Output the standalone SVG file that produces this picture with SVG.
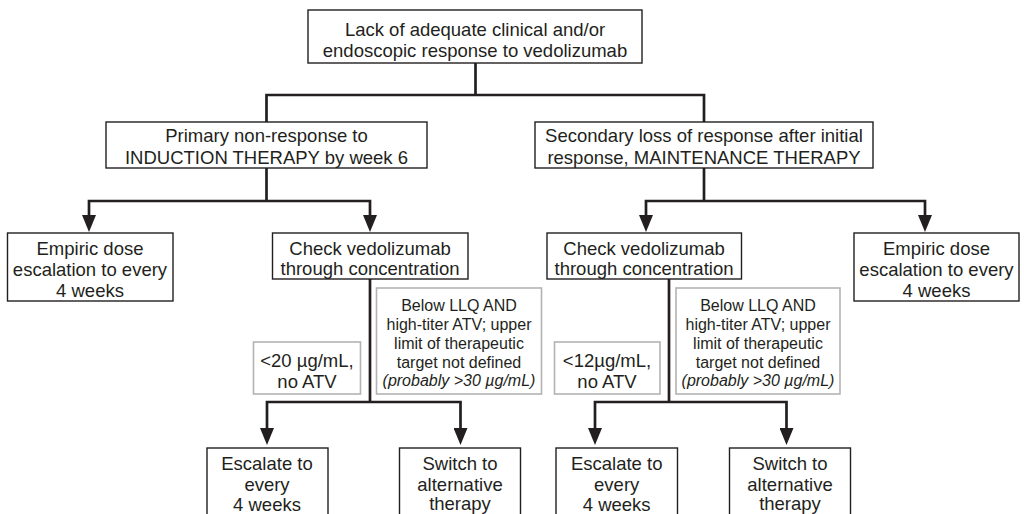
<svg xmlns="http://www.w3.org/2000/svg" width="1024" height="514" viewBox="0 0 1024 514">
<defs>
<style>
.box{fill:#fff;stroke:#231f20;stroke-width:1.4}
.gbox{fill:#fff;stroke:#b3b3b3;stroke-width:1.6}
.t{font-family:"Liberation Sans",Arial,sans-serif;font-size:18.5px;fill:#231f20;text-anchor:middle}
.s{font-family:"Liberation Sans",Arial,sans-serif;font-size:16px;fill:#231f20;text-anchor:middle}
.i{font-style:italic}
.c{fill:none;stroke:#231f20;stroke-width:2.7;stroke-linejoin:miter}
</style>
<marker id="ah" markerUnits="userSpaceOnUse" viewBox="0 -7 17 14" refX="7" refY="0" markerWidth="17" markerHeight="14" orient="auto-start-reverse">
<path d="M0,-7 L17,0 L0,7 z" fill="#231f20"/>
</marker>
</defs>
<rect width="1024" height="514" fill="#fff"/>
<g id="connectors">
<path class="c" d="M475.5,63 V95"/>
<path class="c" d="M266.5,122 V95 H704 V122"/>
<path class="c" d="M266.5,168 V201"/>
<path class="c" d="M89,222 V201 H370 V222" marker-start="url(#ah)" marker-end="url(#ah)"/>
<path class="c" d="M704,168 V201"/>
<path class="c" d="M646,222 V201 H925 V222" marker-start="url(#ah)" marker-end="url(#ah)"/>
<path class="c" d="M370,279 V402"/>
<path class="c" d="M267,435 V402 H460.5 V435" marker-start="url(#ah)" marker-end="url(#ah)"/>
<path class="c" d="M669,279 V402"/>
<path class="c" d="M595,435 V402 H786.5 V435" marker-start="url(#ah)" marker-end="url(#ah)"/>
</g>
<g id="n-top">
<rect class="box" x="308" y="10" width="334" height="53"/>
<text class="t" x="475" y="35.5">Lack of adequate clinical and/or</text>
<text class="t" x="475" y="56.5">endoscopic response to vedolizumab</text>
</g>
<g id="n-primary">
<rect class="box" x="106" y="122" width="321" height="46"/>
<text class="t" x="266.5" y="142">Primary non-response to</text>
<text class="t" x="266.5" y="164">INDUCTION THERAPY by week 6</text>
</g>
<g id="n-secondary">
<rect class="box" x="535" y="122" width="338" height="46"/>
<text class="t" x="704" y="142">Secondary loss of response after initial</text>
<text class="t" x="704" y="164">response, MAINTENANCE THERAPY</text>
</g>
<g id="n-empiric-left">
<rect class="box" x="7.5" y="233" width="165.5" height="68"/>
<text class="t" x="90" y="255">Empiric dose</text>
<text class="t" x="90" y="276">escalation to every</text>
<text class="t" x="90" y="297">4 weeks</text>
</g>
<g id="n-check-left">
<rect class="box" x="272.5" y="233" width="195.5" height="46"/>
<text class="t" x="370" y="255">Check vedolizumab</text>
<text class="t" x="370" y="275">through concentration</text>
</g>
<g id="n-check-right">
<rect class="box" x="547" y="233" width="194.5" height="46"/>
<text class="t" x="644" y="255">Check vedolizumab</text>
<text class="t" x="644" y="275">through concentration</text>
</g>
<g id="n-empiric-right">
<rect class="box" x="854" y="233" width="165" height="68"/>
<text class="t" x="936.5" y="255">Empiric dose</text>
<text class="t" x="936.5" y="276">escalation to every</text>
<text class="t" x="936.5" y="297">4 weeks</text>
</g>
<g id="n-cond-20">
<rect class="gbox" x="253.5" y="342" width="107" height="52"/>
<text class="t" x="307" y="367">&lt;20 µg/mL,</text>
<text class="t" x="307" y="388">no ATV</text>
</g>
<g id="n-cond-llq-left">
<rect class="gbox" x="376.5" y="288" width="165" height="106"/>
<text class="s" x="459" y="311">Below LLQ AND</text>
<text class="s" x="459" y="330">high-titer ATV; upper</text>
<text class="s" x="459" y="349">limit of therapeutic</text>
<text class="s" x="459" y="368">target not defined</text>
<text class="s i" x="459" y="386">(probably &gt;30 µg/mL)</text>
</g>
<g id="n-cond-12">
<rect class="gbox" x="554.5" y="342" width="105.5" height="52"/>
<text class="t" x="607" y="367">&lt;12µg/mL,</text>
<text class="t" x="607" y="388">no ATV</text>
</g>
<g id="n-cond-llq-right">
<rect class="gbox" x="676" y="288" width="164" height="106"/>
<text class="s" x="758" y="311">Below LLQ AND</text>
<text class="s" x="758" y="330">high-titer ATV; upper</text>
<text class="s" x="758" y="349">limit of therapeutic</text>
<text class="s" x="758" y="368">target not defined</text>
<text class="s i" x="758" y="386">(probably &gt;30 µg/mL)</text>
</g>
<g id="n-escalate-left">
<rect class="box" x="207" y="448" width="121" height="80"/>
<text class="t" x="267" y="470">Escalate to</text>
<text class="t" x="267" y="491">every</text>
<text class="t" x="267" y="511">4 weeks</text>
</g>
<g id="n-switch-left">
<rect class="box" x="399.5" y="448" width="121" height="80"/>
<text class="t" x="460" y="470">Switch to</text>
<text class="t" x="460" y="491">alternative</text>
<text class="t" x="460" y="510">therapy</text>
</g>
<g id="n-escalate-right">
<rect class="box" x="556" y="448" width="121.5" height="80"/>
<text class="t" x="616.7" y="470">Escalate to</text>
<text class="t" x="616.7" y="491">every</text>
<text class="t" x="616.7" y="511">4 weeks</text>
</g>
<g id="n-switch-right">
<rect class="box" x="729.5" y="448" width="121" height="80"/>
<text class="t" x="790" y="470">Switch to</text>
<text class="t" x="790" y="491">alternative</text>
<text class="t" x="790" y="510">therapy</text>
</g>
</svg>
